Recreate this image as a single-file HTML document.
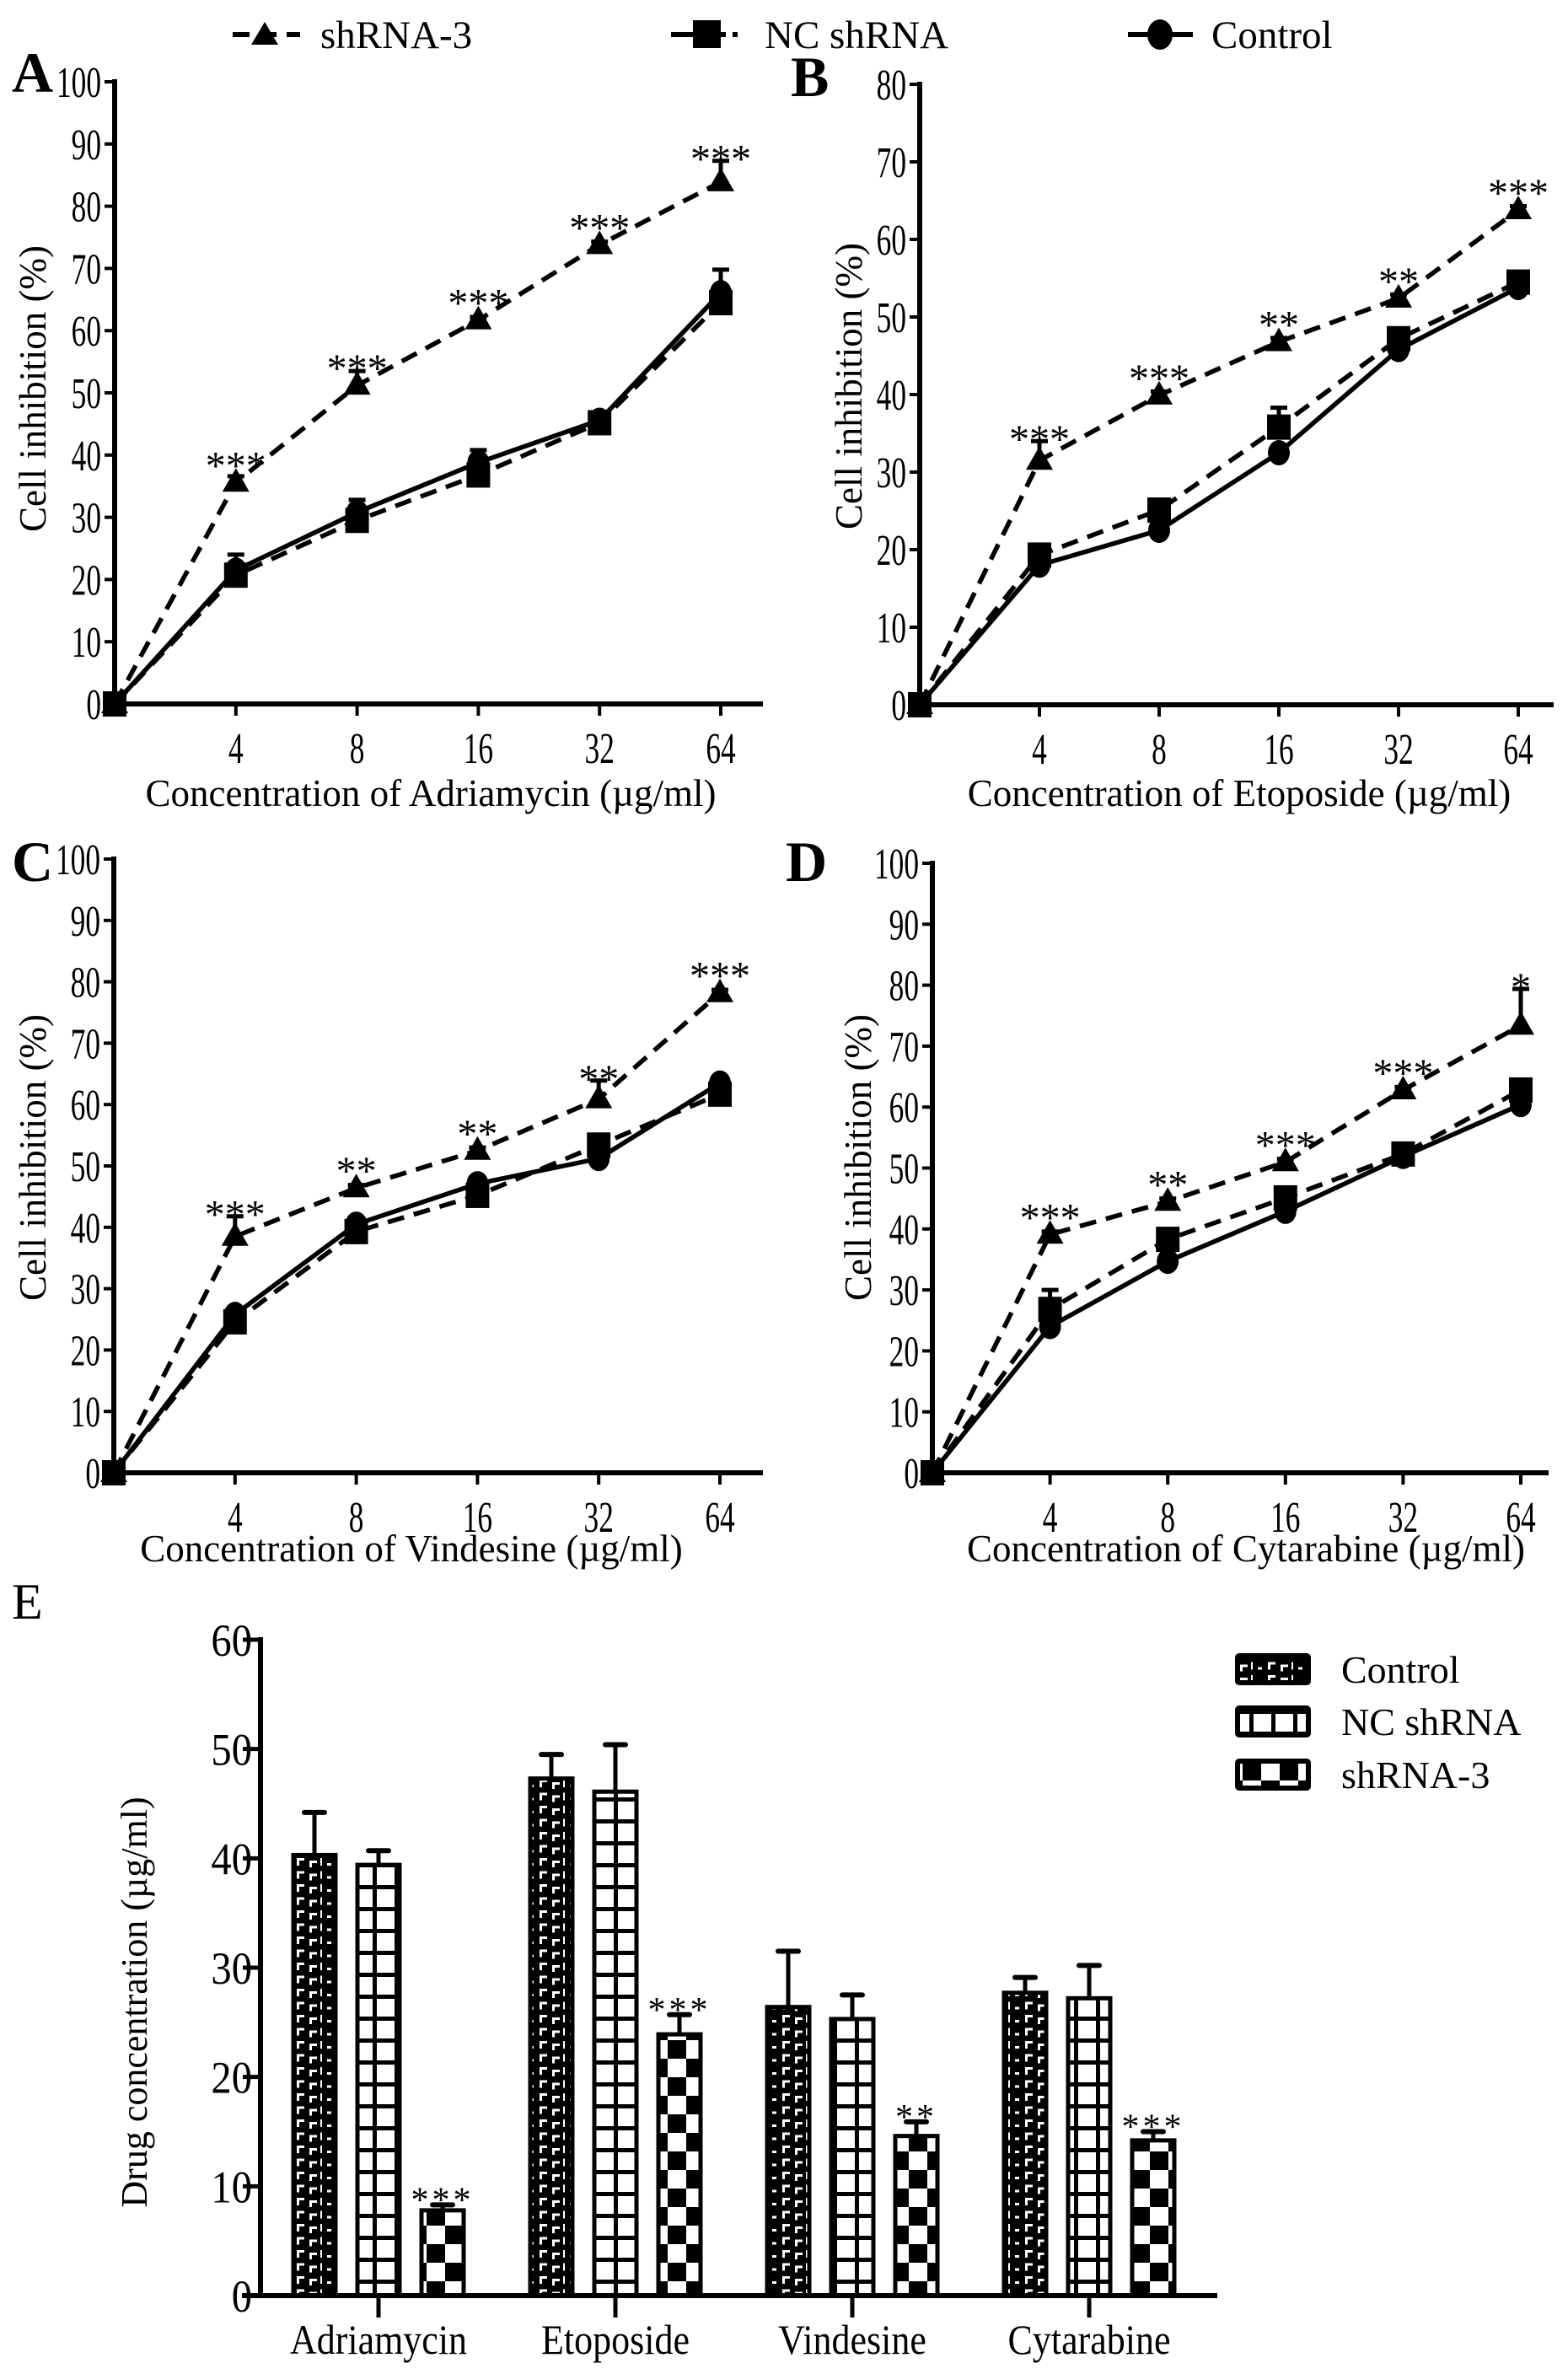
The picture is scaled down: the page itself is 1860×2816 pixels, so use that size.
<!DOCTYPE html>
<html><head><meta charset="utf-8"><title>Cell inhibition and drug concentration</title>
<style>
html,body{margin:0;padding:0;background:#fff;}
svg{display:block;font-family:"Liberation Serif","DejaVu Serif",serif;}
</style></head>
<body>
<svg id="fig" xmlns="http://www.w3.org/2000/svg" width="1860" height="2816" viewBox="0 0 1860 2816">
<defs>
<pattern id="pCtrl" patternUnits="userSpaceOnUse" width="48" height="15.5">
<rect width="48" height="15.5" fill="#000"/>
<rect x="4" y="9" width="5" height="3" fill="#fff"/>
<rect x="16" y="3" width="9" height="3" fill="#fff"/>
<rect x="16" y="3" width="3" height="9" fill="#fff"/>
<rect x="31" y="6" width="9" height="3" fill="#fff"/>
<rect x="31" y="6" width="3" height="8" fill="#fff"/>
<rect x="44" y="3" width="2" height="9" fill="#fff"/>
</pattern>
<pattern id="pNC" patternUnits="userSpaceOnUse" width="26" height="26">
<rect width="26" height="26" fill="#fff"/>
<rect x="0" y="0" width="26" height="5" fill="#000"/>
<rect x="0" y="0" width="5" height="26" fill="#000"/>
</pattern>
<pattern id="pSh" patternUnits="userSpaceOnUse" width="44" height="44">
<rect width="44" height="44" fill="#fff"/>
<rect x="0" y="0" width="22" height="22" fill="#000"/>
<rect x="22" y="22" width="22" height="22" fill="#000"/>
</pattern>
</defs>
<g id="root"></g>
</svg>
<script>
// ---------- data: line panels ----------
const xCats = ['4','8','16','32','64'];
const aSh   = [0, 35.6, 51.2, 61.7, 73.8, 83.9];
const aNC   = [0, 20.7, 29.5, 36.8, 45.2, 64.5];
const aCtrl = [0, 21.5, 30.8, 38.8, 45.6, 66.1];
const aShErr   = [0, 1, 2.3, 0.5, 0.5, 3.4];
const aNCErr   = [0, 1.5, 1.5, 3, 1, 1];
const aCtrlErr = [0, 2.5, 2, 2, 1, 3.7];
const aStars = ['***','***','***','***','***'];

const bSh   = [0, 31.5, 39.9, 46.8, 52.4, 63.8];
const bNC   = [0, 19.3, 25.1, 35.8, 47.2, 54.5];
const bCtrl = [0, 18.0, 22.5, 32.5, 45.8, 53.8];
const bShErr   = [0, 2.5, 0.5, 0.5, 0.5, 0.5];
const bNCErr   = [0, 1, 1, 2.5, 1, 1];
const bCtrlErr = [0, 0.5, 0.5, 0.5, 0.5, 0.5];
const bStars = ['***','***','**','**','***'];

const cSh   = [0, 38.5, 46.4, 52.5, 60.9, 78.2];
const cNC   = [0, 24.6, 39.3, 45.2, 53.4, 61.7];
const cCtrl = [0, 25.8, 40.5, 47.1, 51.2, 63.5];
const cShErr   = [0, 3.3, 0.5, 0.5, 3, 0.5];
const cNCErr   = [0, 0.5, 0.5, 0.5, 0.5, 0.5];
const cCtrlErr = [0, 0.5, 0.5, 0.5, 0.5, 0.5];
const cStars = ['***','**','**','**','***'];

const dSh   = [0, 39.1, 44.5, 51.0, 62.8, 73.4];
const dNC   = [0, 26.8, 38.3, 45.1, 52.3, 62.8];
const dCtrl = [0, 24.0, 34.7, 42.9, 51.9, 60.4];
const dShErr   = [0, 0.5, 0.5, 0.5, 0.5, 6];
const dNCErr   = [0, 3.2, 1, 1, 1, 1];
const dCtrlErr = [0, 0.5, 0.5, 0.5, 0.5, 0.5];
const dStars = ['***','**','***','***','*'];

// ---------- data: bar panel ----------
const drugs = ['Adriamycin','Etoposide','Vindesine','Cytarabine'];
const barCtrl = [40.3, 47.3, 26.4, 27.7];
const barNC   = [39.4, 46.1, 25.3, 27.2];
const barSh   = [7.8, 23.9, 14.6, 14.2];
const barCtrlErr = [3.9, 2.2, 5.1, 1.4];
const barNCErr   = [1.3, 4.3, 2.2, 3.0];
const barShErr   = [0.5, 1.8, 1.3, 0.8];
const barStars = ['***','***','**','***'];
const barTicks = [0,10,20,30,40,50,60];

// ---------- helpers ----------
const NS = 'http://www.w3.org/2000/svg';
const root = document.getElementById('root');
function el(tag, attrs, parent) {
  const e = document.createElementNS(NS, tag);
  for (const k in attrs) e.setAttribute(k, attrs[k]);
  (parent || root).appendChild(e);
  return e;
}
function text(x, y, s, size, anchor, sx, parent) {
  const t = el('text', {x: 0, y: 0, 'font-size': size, 'text-anchor': anchor || 'start', fill: '#000',
    transform: 'translate(' + x + ',' + y + ') scale(' + (sx || 1) + ',1)'}, parent);
  t.textContent = s;
  return t;
}

// ---------- legend (top) ----------
const lg = el('g', {});


el('line', {x1: 276, y1: 41, x2: 356, y2: 41, stroke: '#000', 'stroke-width': 6, 'stroke-dasharray': '20 12'}, lg);
el('path', {d: 'M314,26 L330,53 L298,53 Z', fill: '#000'}, lg);
let lt1 = text(380, 57, 'shRNA-3', 47, 'start', 1, lg);


el('line', {x1: 796, y1: 41, x2: 840, y2: 41, stroke: '#000', 'stroke-width': 6}, lg);
el('line', {x1: 855, y1: 41, x2: 875, y2: 41, stroke: '#000', 'stroke-width': 6, 'stroke-dasharray': '6 8'}, lg);
el('rect', {x: 822, y: 24, width: 33, height: 33, fill: '#000'}, lg);
let lt2 = text(907, 57, 'NC shRNA', 47, 'start', 1, lg);


el('line', {x1: 1338, y1: 41, x2: 1415, y2: 41, stroke: '#000', 'stroke-width': 6}, lg);
el('ellipse', {cx: 1376, cy: 41, rx: 15, ry: 18, fill: '#000'}, lg);
let lt3 = text(1437, 57, 'Control', 47, 'start', 1, lg);



// ---------- line panel ----------
function linePanel(cfg) {
  const g = el('g', {});
  
  
  const xs = i => cfg.x0 + i * cfg.step;
  const ys = v => cfg.y0 - (v / cfg.max) * (cfg.y0 - cfg.yTop);
  const L = text(cfg.lx, cfg.ly, cfg.letter, 68, 'start', 1, g);
  L.setAttribute('font-weight', 'bold');
  
  
  const ya = el('line', {x1: cfg.x0, y1: cfg.yTop - 3, x2: cfg.x0, y2: cfg.y0 + 14, stroke: '#000', 'stroke-width': 6}, g);
  
  
  const xa = el('line', {x1: cfg.x0 - 3, y1: cfg.y0, x2: cfg.xEnd, y2: cfg.y0, stroke: '#000', 'stroke-width': 6}, g);
  
  
  for (let v = 0; v <= cfg.max; v += 10) {
    const y = ys(v);
    el('line', {x1: cfg.x0 - 12, y1: y, x2: cfg.x0, y2: y, stroke: '#000', 'stroke-width': 4}, g);
    const t = text(cfg.x0 - 16, y + 18, String(v), 52, 'end', 0.68, g);
    
    
  }
  xCats.forEach((c, i) => {
    const x = xs(i + 1);
    el('line', {x1: x, y1: cfg.y0, x2: x, y2: cfg.y0 + 14, stroke: '#000', 'stroke-width': 4}, g);
    const t = text(x, cfg.y0 + 70, c, 52, 'middle', 0.68, g);
    
    
  });
  const xt = text(cfg.xtx, cfg.xty, cfg.xTitle, 45, 'middle', 1, g);
  
  
  const yt = el('text', {x: 0, y: 0, 'font-size': 45, 'text-anchor': 'middle', fill: '#000',
    transform: 'translate(' + (cfg.ytx + 14) + ',' + cfg.yty + ') rotate(-90)'}, g);
  yt.textContent = 'Cell inhibition (%)';
  
  

  const series = [
    {vals: cfg.ctrl, err: cfg.ctrlErr, dash: null, mk: 'circle', name: 'series-control'},
    {vals: cfg.nc, err: cfg.ncErr, dash: '20 12', mk: 'square', name: 'series-nc-shrna'},
    {vals: cfg.sh, err: cfg.shErr, dash: '20 12', mk: 'triangle', name: 'series-shrna3'}
  ];
  series.forEach(s => {
    const sg = el('g', {}, g);
    
    
    s.vals.forEach((v, i) => {
      if (i === 0) return;
      const x = xs(i), y = ys(v), ye = ys(v + s.err[i]);
      el('line', {x1: x, y1: y, x2: x, y2: ye, stroke: '#000', 'stroke-width': 5}, sg);
      el('line', {x1: x - 10, y1: ye, x2: x + 10, y2: ye, stroke: '#000', 'stroke-width': 5}, sg);
    });
    const pts = s.vals.map((v, i) => xs(i) + ',' + ys(v)).join(' ');
    const pl = el('polyline', {points: pts, fill: 'none', stroke: '#000', 'stroke-width': 5.5}, sg);
    if (s.dash) pl.setAttribute('stroke-dasharray', s.dash);
    
    
    s.vals.forEach((v, i) => {
      const x = xs(i), y = ys(v);
      let m;
      if (s.mk === 'circle') m = el('ellipse', {cx: x, cy: y, rx: 13, ry: 15, fill: '#000'}, sg);
      else if (s.mk === 'square') m = el('rect', {x: x - 14, y: y - 15, width: 28, height: 30, fill: '#000'}, sg);
      else m = el('path', {d: 'M' + x + ',' + (y - 17) + ' L' + (x + 16) + ',' + (y + 11) + ' L' + (x - 16) + ',' + (y + 11) + ' Z', fill: '#000'}, sg);
      
      
    });
  });
  cfg.stars.forEach((st, k) => {
    const i = k + 1;
    const top = Math.min(ys(cfg.sh[i]) - 18, ys(cfg.sh[i] + cfg.shErr[i]));
    const t = text(xs(i), top - 6 + 20, st, 48, 'middle', 1, g);
    
    
  });
}

linePanel({name: 'panel-a-adriamycin', letter: 'A', lx: 14, ly: 109, x0: 136, step: 143.8, xEnd: 905, y0: 835, yTop: 97, max: 100,
  xTitle: 'Concentration of Adriamycin (µg/ml)', xtx: 511, xty: 956, ytx: 40, yty: 461,
  sh: aSh, nc: aNC, ctrl: aCtrl, shErr: aShErr, ncErr: aNCErr, ctrlErr: aCtrlErr, stars: aStars});
linePanel({name: 'panel-b-etoposide', letter: 'B', lx: 938, ly: 114, x0: 1091, step: 142, xEnd: 1843, y0: 836, yTop: 100, max: 80,
  xTitle: 'Concentration of Etoposide (µg/ml)', xtx: 1470, xty: 956, ytx: 1008, yty: 458,
  sh: bSh, nc: bNC, ctrl: bCtrl, shErr: bShErr, ncErr: bNCErr, ctrlErr: bCtrlErr, stars: bStars});
linePanel({name: 'panel-c-vindesine', letter: 'C', lx: 14, ly: 1045, x0: 135, step: 143.8, xEnd: 905, y0: 1747, yTop: 1019, max: 100,
  xTitle: 'Concentration of Vindesine (µg/ml)', xtx: 488, xty: 1852, ytx: 40, yty: 1373,
  sh: cSh, nc: cNC, ctrl: cCtrl, shErr: cShErr, ncErr: cNCErr, ctrlErr: cCtrlErr, stars: cStars});
linePanel({name: 'panel-d-cytarabine', letter: 'D', lx: 932, ly: 1045, x0: 1106, step: 139.6, xEnd: 1837, y0: 1747, yTop: 1024, max: 100,
  xTitle: 'Concentration of Cytarabine (µg/ml)', xtx: 1478, xty: 1852, ytx: 1019, yty: 1373,
  sh: dSh, nc: dNC, ctrl: dCtrl, shErr: dShErr, ncErr: dNCErr, ctrlErr: dCtrlErr, stars: dStars});

// ---------- bar panel E ----------
(function () {
  const g = el('g', {});
  
  
  const X0 = 309, Y0 = 2723, YTOP = 1945, MAX = 60, G0 = 449, GSTEP = 281, OFF = 76, BW = 50;
  const ys = v => Y0 - (v / MAX) * (Y0 - YTOP);
  const gx = i => G0 + i * GSTEP;
  const E = text(14, 1920, 'E', 60, 'start', 1, g);
  
  
  const series = [
    {vals: barCtrl, err: barCtrlErr, fill: 'url(#pCtrl)', off: -OFF, name: 'bars-control'},
    {vals: barNC, err: barNCErr, fill: 'url(#pNC)', off: 0, name: 'bars-nc-shrna'},
    {vals: barSh, err: barShErr, fill: 'url(#pSh)', off: OFF, name: 'bars-shrna3'}
  ];
  series.forEach(s => {
    const sg = el('g', {}, g);
    
    
    s.vals.forEach((v, i) => {
      const cx = gx(i) + s.off, y = ys(v), ye = ys(v + s.err[i]);
      el('line', {x1: cx, y1: y, x2: cx, y2: ye, stroke: '#000', 'stroke-width': 5}, sg);
      el('line', {x1: cx - 12, y1: ye, x2: cx + 12, y2: ye, stroke: '#000', 'stroke-width': 6, 'stroke-linecap': 'round'}, sg);
      const r = el('rect', {x: cx - BW / 2, y: y, width: BW, height: Y0 - y, fill: s.fill, stroke: '#000', 'stroke-width': 5}, sg);
      
      
    });
  });
  barStars.forEach((st, i) => {
    const cx = gx(i) + OFF;
    const t = text(cx, ys(barSh[i] + barShErr[i]) - 8 + 16, st, 42, 'middle', 1, g);
    t.setAttribute('letter-spacing', '4');
    
    
  });
  const ya = el('line', {x1: X0, y1: YTOP - 3, x2: X0, y2: Y0, stroke: '#000', 'stroke-width': 6}, g);
  
  
  const xa = el('line', {x1: 287, y1: Y0, x2: 1444, y2: Y0, stroke: '#000', 'stroke-width': 6}, g);
  
  
  barTicks.forEach(v => {
    const y = ys(v);
    el('line', {x1: 288, y1: y, x2: X0, y2: y, stroke: '#000', 'stroke-width': 5}, g);
    const t = text(299, y + 19, String(v), 54, 'end', 0.9, g);
    
    
  });
  drugs.forEach((d, i) => {
    const x = gx(i);
    el('line', {x1: x, y1: Y0, x2: x, y2: Y0 + 26, stroke: '#000', 'stroke-width': 5}, g);
    const t = text(x, 2792, d, 50, 'middle', 0.88, g);
    
    
  });
  const yt = el('text', {x: 0, y: 0, 'font-size': 44, 'text-anchor': 'middle', fill: '#000',
    transform: 'translate(174,2375) rotate(-90)'}, g);
  yt.textContent = 'Drug concentration (µg/ml)';
  
  
  const leg = [['url(#pCtrl)', 'Control', 1964], ['url(#pNC)', 'NC shRNA', 2026], ['url(#pSh)', 'shRNA-3', 2089]];
  leg.forEach(item => {
    const lgE = el('g', {}, g);
    
    
    el('rect', {x: 1468, y: item[2], width: 84, height: 32, fill: item[0], stroke: '#000', 'stroke-width': 6, rx: 2}, lgE);
    text(1591, item[2] + 32, item[1], 46, 'start', 1, lgE);
  });
})();
</script>
</body></html>
